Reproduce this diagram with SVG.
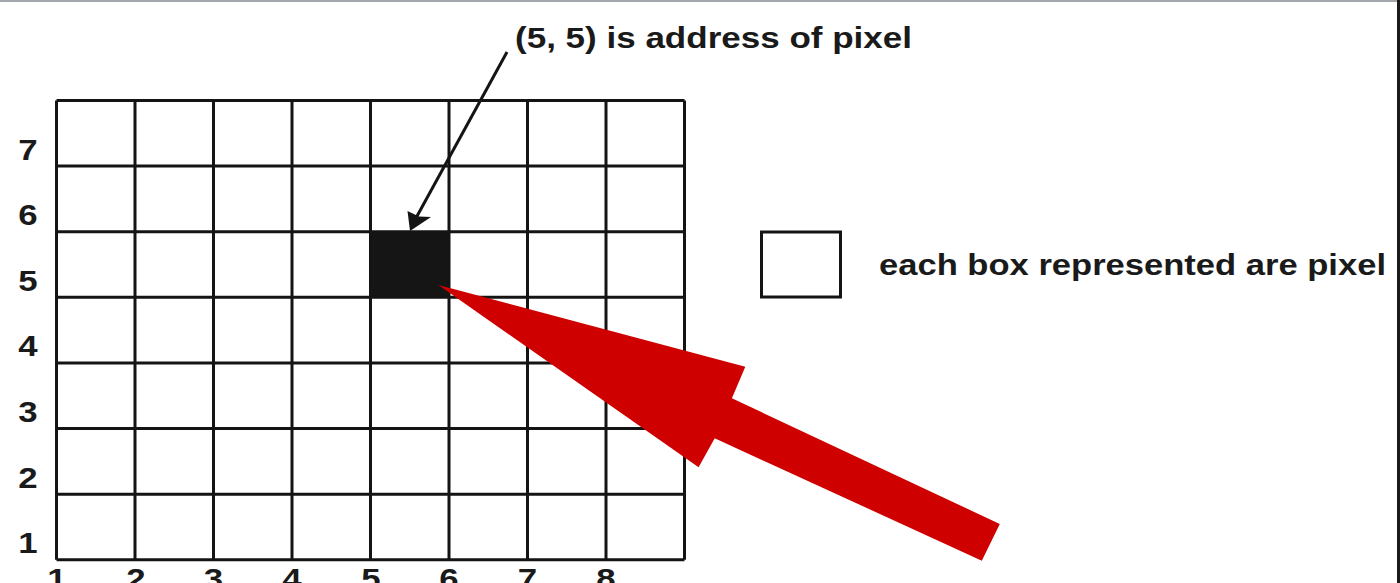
<svg xmlns="http://www.w3.org/2000/svg" width="1400" height="583" viewBox="0 0 1400 583">
<style>
.t{font-family:"Liberation Sans",Arial,sans-serif;font-weight:bold;font-size:29px;fill:#1a1a1a}
.ax{text-anchor:middle}
.g{stroke:#141414;stroke-width:3;fill:none}
</style>
<rect width="1400" height="583" fill="#ffffff"/>
<rect x="0" y="0" width="1400" height="2" fill="#a3a7ab"/>
<rect x="1397" y="0" width="3" height="583" fill="#1a1a1a"/>

<g id="grid">
<rect x="370.5" y="231.7" width="78.5" height="65.6" fill="#151515"/>
<path class="g" d="M56.5 100.5V559.8M135 100.5V559.8M213.5 100.5V559.8M292 100.5V559.8M370.5 100.5V559.8M449 100.5V559.8M527.5 100.5V559.8M606 100.5V559.8M684.5 100.5V559.8"/>
<path class="g" d="M56.5 100.5H684.5M56.5 166.1H684.5M56.5 231.7H684.5M56.5 297.3H684.5M56.5 363H684.5M56.5 428.6H684.5M56.5 494.2H684.5M56.5 559.8H684.5"/>
</g>

<g id="y-labels" class="t ax">
<text x="28" y="160" transform="translate(28 0) scale(1.2 1) translate(-28 0)">7</text>
<text x="28" y="225.5" transform="translate(28 0) scale(1.2 1) translate(-28 0)">6</text>
<text x="28" y="291" transform="translate(28 0) scale(1.2 1) translate(-28 0)">5</text>
<text x="28" y="356.5" transform="translate(28 0) scale(1.2 1) translate(-28 0)">4</text>
<text x="28" y="422" transform="translate(28 0) scale(1.2 1) translate(-28 0)">3</text>
<text x="28" y="488" transform="translate(28 0) scale(1.2 1) translate(-28 0)">2</text>
<text x="28" y="553" transform="translate(28 0) scale(1.2 1) translate(-28 0)">1</text>
</g>

<g id="x-labels" class="t ax">
<text x="57" y="589" transform="translate(57 0) scale(1.2 1) translate(-57 0)">1</text>
<text x="136" y="589" transform="translate(136 0) scale(1.2 1) translate(-136 0)">2</text>
<text x="213.5" y="589" transform="translate(213.5 0) scale(1.2 1) translate(-213.5 0)">3</text>
<text x="292" y="589" transform="translate(292 0) scale(1.2 1) translate(-292 0)">4</text>
<text x="371" y="589" transform="translate(371 0) scale(1.2 1) translate(-371 0)">5</text>
<text x="449" y="589" transform="translate(449 0) scale(1.2 1) translate(-449 0)">6</text>
<text x="527.5" y="589" transform="translate(527.5 0) scale(1.2 1) translate(-527.5 0)">7</text>
<text x="606" y="589" transform="translate(606 0) scale(1.2 1) translate(-606 0)">8</text>
</g>

<g id="pixel-label">
<text class="t" x="515" y="48" textLength="397" lengthAdjust="spacingAndGlyphs">(5, 5) is address of pixel</text>
</g>

<g id="legend">
<rect x="761.5" y="232" width="79" height="65" fill="#ffffff" stroke="#141414" stroke-width="3"/>
<text class="t" x="879" y="275" textLength="507" lengthAdjust="spacingAndGlyphs">each box represented are pixel</text>
</g>

<g id="connectors">
<line x1="507" y1="52" x2="416" y2="218" stroke="#141414" stroke-width="3"/>
<polygon points="410,231 407.5,211 419,216.5 431,217" fill="#141414"/>
<polygon points="438.4,285 745.3,366.7 731.9,398.3 999.8,524 981.8,560.7 714.7,438.3 698.6,467.3" fill="#cf0000"/>
</g>
</svg>
